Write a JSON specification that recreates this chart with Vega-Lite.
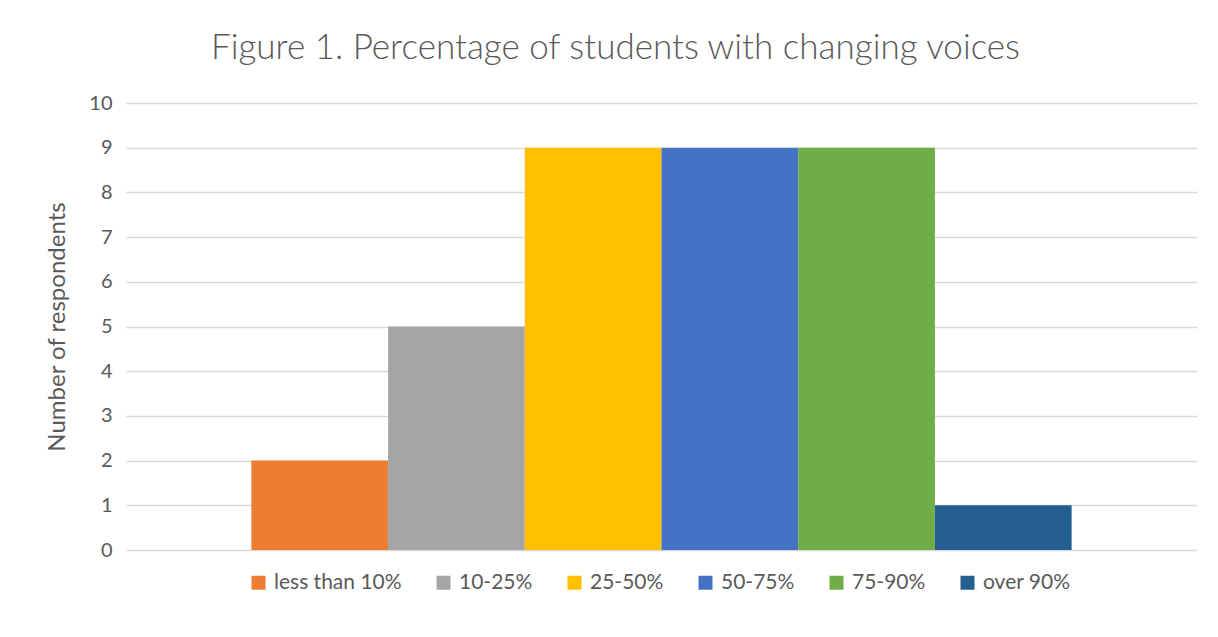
{
  "$schema": "https://vega.github.io/schema/vega-lite/v6.json",
  "autosize": "none",
  "width": 1071,
  "height": 447,
  "padding": {"left": 126, "top": 103, "right": 21, "bottom": 87},
  "background": "white",
  "data": {"values": [
    {"range": "less than 10%", "count": 2},
    {"range": "10-25%", "count": 5},
    {"range": "25-50%", "count": 9},
    {"range": "50-75%", "count": 9},
    {"range": "75-90%", "count": 9},
    {"range": "over 90%", "count": 1}
  ]},
  "title": {
    "text": "Figure 1. Percentage of students with changing voices",
    "font": "Lato",
    "fontWeight": 300,
    "fontSize": 35,
    "color": "#595959",
    "anchor": "middle",
    "offset": 27,
    "dx": -46
  },
  "mark": {"type": "bar"},
  "encoding": {
    "x": {
      "field": "range",
      "type": "nominal",
      "sort": null,
      "scale": {"paddingInner": 0, "paddingOuter": 0.917},
      "axis": null
    },
    "y": {
      "field": "count",
      "type": "quantitative",
      "scale": {"domain": [0, 10]},
      "axis": {
        "values": [0,1,2,3,4,5,6,7,8,9,10],
        "title": "Number of respondents",
        "titleFont": "Lato",
        "titleFontWeight": "normal",
        "titleFontSize": 24,
        "titleColor": "#595959",
        "titlePadding": 19,
        "labelFont": "Lato",
        "labelFontSize": 20,
        "labelColor": "#595959",
        "labelPadding": 14,
        "ticks": false,
        "domain": false,
        "grid": true,
        "gridColor": "#d9d9d9",
        "gridWidth": 1.3
      }
    },
    "color": {
      "field": "range",
      "type": "nominal",
      "sort": null,
      "scale": {
        "domain": ["less than 10%", "10-25%", "25-50%", "50-75%", "75-90%", "over 90%"],
        "range": ["#ED7D31", "#A5A5A5", "#FFC000", "#4472C4", "#70AD47", "#255E91"]
      },
      "legend": {
        "title": null,
        "orient": "none",
        "legendX": 122,
        "legendY": 469,
        "direction": "horizontal",
        "symbolType": "square",
        "symbolSize": 196,
        "symbolStrokeWidth": 0,
        "labelFont": "Lato",
        "labelFontSize": 21,
        "labelColor": "#595959",
        "labelOffset": 5,
        "columnPadding": 31
      }
    }
  },
  "config": {"view": {"stroke": null}}
}
